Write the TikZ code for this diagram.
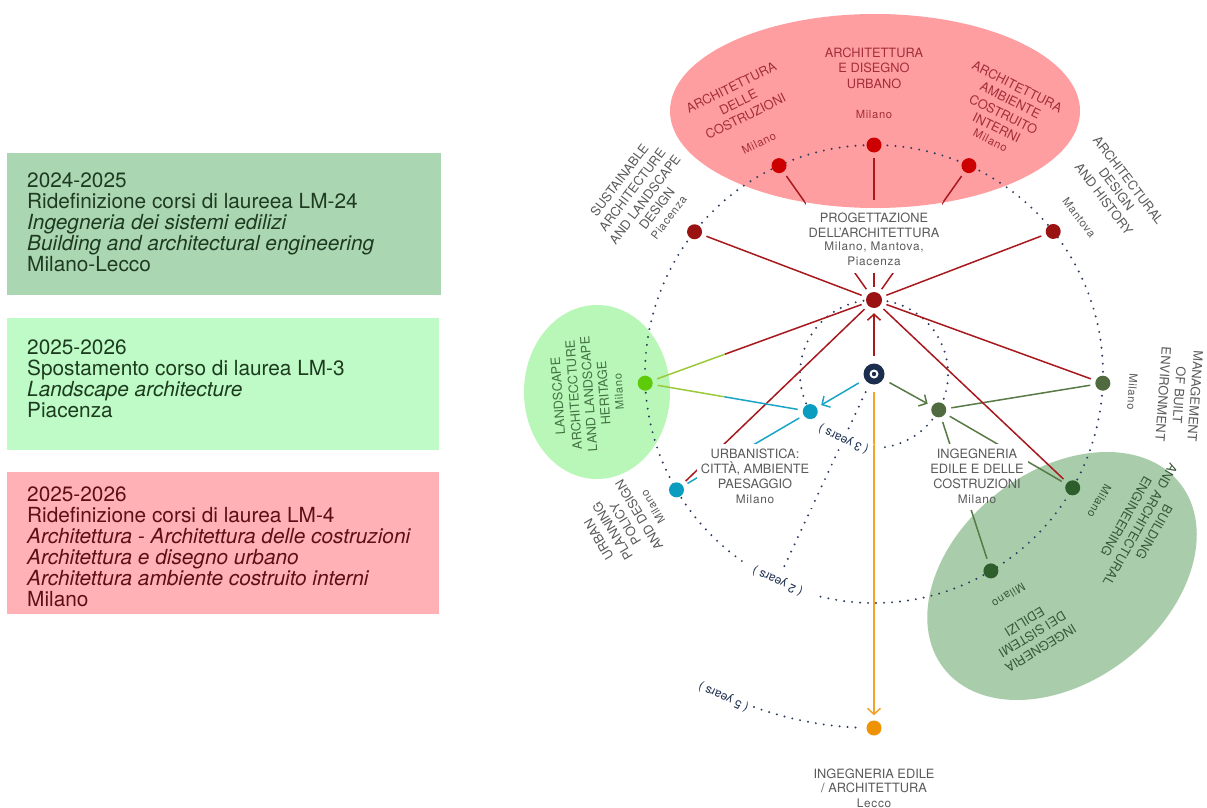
\documentclass[tikz,border=0pt]{standalone}
\usepackage{fontspec}
\setmainfont{TeX Gyre Heros}
\newfontfamily\spfont[LetterSpace=6]{TeX Gyre Heros}
\usetikzlibrary{arrows.meta,calc}
\definecolor{cNavy}{HTML}{1C2E4E}
\definecolor{cDot}{HTML}{2C3D60}
\definecolor{cBrRed}{HTML}{CC0000}
\definecolor{cDkRed}{HTML}{9A1212}
\definecolor{cRedLine}{HTML}{A8191E}
\definecolor{cLimeNode}{HTML}{5DCB0A}
\definecolor{cYGreen}{HTML}{9CC93A}
\definecolor{cTeal}{HTML}{0B9DBF}
\definecolor{cTealLine}{HTML}{1AA5C6}
\definecolor{cOliveNode}{HTML}{4F6B3F}
\definecolor{cDkGreen}{HTML}{2E5E2C}
\definecolor{cGLine}{HTML}{587A46}
\definecolor{cOrange}{HTML}{EE9306}
\definecolor{cOrLine}{HTML}{F2A32A}
\definecolor{cPinkEll}{HTML}{FF9EA1}
\definecolor{cLGEll}{HTML}{B9F7B9}
\definecolor{cRGEll}{HTML}{A9CDAB}
\definecolor{cBoxA}{HTML}{AAD7B1}
\definecolor{cBoxB}{HTML}{BFFBC6}
\definecolor{cBoxC}{HTML}{FFB1B5}
\definecolor{cGray}{HTML}{5A5A5A}
\definecolor{cPinkT}{HTML}{A32E3A}
\definecolor{cLGT}{HTML}{437343}
\definecolor{cRGT}{HTML}{385838}
\definecolor{cTA}{HTML}{1F3A22}
\definecolor{cTB}{HTML}{1C3B1F}
\definecolor{cTC}{HTML}{5C0F17}
\tikzset{
  cnode/.style={circle,inner sep=0pt,minimum size=15pt},
  dotc/.style={draw=cDot,line width=2.2pt,line cap=round,dash pattern=on 0pt off 8pt},
  conn/.style={line width=1.5pt,shorten <=5pt,shorten >=5pt},
  arr/.style={line width=1.5pt,shorten <=7pt,shorten >=5pt,-{Straight Barb[length=6pt,width=13pt]}},
  capt/.style={font=\fontsize{12.8}{14}\selectfont,inner sep=0pt},
  cty/.style={font=\spfont\fontsize{11.2}{13}\selectfont,inner sep=0pt},
  subl/.style={font=\spfont\fontsize{11.8}{13}\selectfont,inner sep=0pt},
  yrs/.style={font=\fontsize{12}{13}\selectfont,text=cNavy,fill=white,inner sep=2.5pt,rotate=155},
  boxtxt/.style={font=\fontsize{20.8}{20.9}\selectfont,align=left,anchor=north west,inner sep=0pt},
  bg/.style={fill=white,inner sep=0pt},
  pinkell/.style={fill=cPinkEll},
  rgell/.style={fill=cRGEll,rotate around={38:(188,-202)}},
}
\newcounter{lblc}
\newcommand\rl[4]{\stepcounter{lblc}\node[#4,rotate={#1-90}] (rl\arabic{lblc}) at (#1:#2) {#3};}
\begin{document}
\begin{tikzpicture}[x=1pt,y=1pt]
\useasboundingbox (0,0) rectangle (1207,-808);
\fill[white] (0,0) rectangle (1207,-808);
% left boxes
\fill[cBoxA] (7,-153) rectangle (441,-295);
\fill[cBoxB] (7,-318) rectangle (439,-450);
\fill[cBoxC] (7,-472) rectangle (439,-614);
\node[boxtxt,text=cTA] (ta) at (27,-173) {2024-2025\\Ridefinizione corsi di laureea LM-24\\\textit{Ingegneria dei sistemi edilizi}\\\textit{Building and architectural engineering}\\Milano-Lecco};
\node[boxtxt,text=cTB] (tb) at (27,-340) {2025-2026\\Spostamento corso di laurea LM-3\\\textit{Landscape architecture}\\Piacenza};
\node[boxtxt,text=cTC] (tc) at (27,-487) {2025-2026\\Ridefinizione corsi di laurea LM-4\\\textit{Architettura - Architettura delle costruzioni}\\\textit{Architettura e disegno urbano}\\\textit{Architettura ambiente costruito interni}\\Milano};
\begin{scope}[shift={(874,-374)}]
% ellipses
\fill[pinkell] (1,263) ellipse [x radius=205pt, y radius=97pt];
\fill[cLGEll] (-277,-18) ellipse [x radius=73pt, y radius=87pt];
\fill[rgell] (188,-202) ellipse [x radius=150pt, y radius=105pt];
% dotted circles
\draw[dotc] (-103.5:229) arc [start angle=-103.5, end angle=235.5, radius=229pt];
\draw[dotc] (-81.5:74) arc [start angle=-81.5, end angle=216, radius=74pt];
\draw[dotc] (245:354) arc [start angle=245, end angle=268, radius=354pt];
\draw[dotc] (245:20) -- (245:218);
% nodes
\node[cnode,fill=cNavy,minimum size=21pt] (c) at (0,0) {};
\fill[white] (0,0) circle (4.5pt);
\fill[cNavy] (0,0) circle (2.2pt);
\node[cnode,fill=cDkRed,minimum size=16pt] (h) at (90:74) {};
\node[cnode,fill=cBrRed] (t1) at (114.5:229) {};
\node[cnode,fill=cBrRed] (t2) at (90:229) {};
\node[cnode,fill=cBrRed] (t3) at (65.5:229) {};
\node[cnode,fill=cDkRed] (sus) at (141.6:229) {};
\node[cnode,fill=cDkRed] (adh) at (38.5:229) {};
\node[cnode,fill=cLimeNode] (land) at (182.3:229) {};
\node[cnode,fill=cOliveNode] (mgmt) at (-2.3:229) {};
\node[cnode,fill=cTeal] (urb) at (210.4:229) {};
\node[cnode,fill=cDkGreen] (bld) at (-29.8:229) {};
\node[cnode,fill=cDkGreen] (ise) at (-59.3:229) {};
\node[cnode,fill=cTeal] (blu) at (210.5:74) {};
\node[cnode,fill=cOliveNode] (grn) at (-29:74) {};
\node[cnode,fill=cOrange] (org) at (270:354) {};
% connectors
\foreach \n in {t1,t2,t3,sus,adh,mgmt,urb} \draw[conn,cRedLine] (h) -- (\n);
\coordinate (p1) at ($(h)!0.653!(land)$);
\draw[conn,cRedLine,shorten >=0pt] (h) -- (p1);
\draw[conn,cYGreen,shorten <=0pt] (p1) -- (land);
\coordinate (p2) at ($(land)!0.48!(blu)$);
\draw[conn,cYGreen,shorten >=0pt] (land) -- (p2);
\draw[conn,cTealLine,shorten <=0pt] (p2) -- (blu);
\draw[conn,cTealLine] (blu) -- (urb);
\foreach \n in {mgmt,bld,ise} \draw[conn,cGLine] (grn) -- (\n);
\draw[arr,cTealLine] (c) -- (blu);
\draw[arr,cGLine] (c) -- (grn);
\draw[arr,cRedLine] (c) -- (h);
\draw[arr,cOrLine] (c) -- (org);
% white label backgrounds (ellipses restored inside them)
\node[bg,minimum width=136pt,minimum height=71pt] (pbg) at (0,136.5) {};
\begin{scope}
\clip ([shift={(-1,-1)}]pbg.south west) rectangle ([shift={(1,1)}]pbg.north east);
\fill[pinkell] (1,263) ellipse [x radius=205pt, y radius=97pt];
\end{scope}
\node[bg,minimum width=116pt,minimum height=64pt] (ubg) at (-119,-102) {};
\node[bg,minimum width=100pt,minimum height=66pt] (ibg) at (103.5,-103) {};
\begin{scope}
\clip ([shift={(-1,-1)}]ibg.south west) rectangle ([shift={(1,1)}]ibg.north east);
\fill[rgell] (188,-202) ellipse [x radius=150pt, y radius=105pt];
\end{scope}
\node[capt,text=cGray] (pa) at (0,156) {PROGETTAZIONE};
\node[capt,text=cGray] (pb) at (0,141) {DELL’ARCHITETTURA};
\node[subl,text=cGray] (pc) at (0,127) {Milano, Mantova,};
\node[subl,text=cGray] (pd) at (0,113) {Piacenza};
\node[capt,text=cGray] (ua) at (-119,-80) {URBANISTICA:};
\node[capt,text=cGray] (ub) at (-119,-94.5) {CITTÀ, AMBIENTE};
\node[capt,text=cGray] (uc) at (-119,-110) {PAESAGGIO};
\node[subl,text=cGray] (ud) at (-119,-125) {Milano};
\node[capt,text=cGray] (ia) at (103,-80) {INGEGNERIA};
\node[capt,text=cGray] (ib) at (103,-95) {EDILE E DELLE};
\node[capt,text=cGray] (ic) at (103,-110) {COSTRUZIONI};
\node[subl,text=cGray] (id) at (103,-125) {Milano};
\draw[conn,cRedLine] (h) -- (bld);
% years
\node[yrs] (y3) at (245:72) {( 3 years )};
\node[yrs] (y2) at (245:228) {( 2 years )};
\node[yrs] (y5) at (245:356) {( 5 years )};
% bottom label
\node[capt,text=cGray] (la) at (0,-400) {INGEGNERIA EDILE};
\node[capt,text=cGray] (lb) at (0,-414) {/ ARCHITETTURA};
\node[subl,text=cGray] (lc) at (0,-429) {Lecco};
% ring labels
\rl{116.5}{320}{ARCHITETTURA}{capt,text=cPinkT}
\rl{116.5}{304}{DELLE}{capt,text=cPinkT}
\rl{116.5}{288}{COSTRUZIONI}{capt,text=cPinkT}
\rl{116.5}{258}{Milano}{cty,text=cPinkT}
\rl{90}{321}{ARCHITETTURA}{capt,text=cPinkT}
\rl{90}{306}{E DISEGNO}{capt,text=cPinkT}
\rl{90}{290}{URBANO}{capt,text=cPinkT}
\rl{90}{259}{Milano}{cty,text=cPinkT}
\rl{63.5}{321}{ARCHITETTURA}{capt,text=cPinkT}
\rl{63.5}{306}{AMBIENTE}{capt,text=cPinkT}
\rl{63.5}{290}{COSTRUITO}{capt,text=cPinkT}
\rl{63.5}{275}{INTERNI}{capt,text=cPinkT}
\rl{63.5}{261}{Milano}{cty,text=cPinkT}
\rl{142.7}{320}{SUSTAINABLE}{capt,text=cGray}
\rl{142.7}{304}{ARCHITECTURE}{capt,text=cGray}
\rl{142.7}{288}{AND LANDSCAPE}{capt,text=cGray}
\rl{142.7}{273}{DESIGN}{capt,text=cGray}
\rl{142.7}{258}{Piacenza}{cty,text=cGray}
\rl{37.3}{320}{ARCHITECTURAL}{capt,text=cGray}
\rl{37.3}{305}{DESIGN}{capt,text=cGray}
\rl{37.3}{289}{AND HISTORY}{capt,text=cGray}
\rl{37.3}{258}{Mantova}{cty,text=cGray}
\rl{184}{317}{LANDSCAPE}{capt,text=cLGT}
\rl{184}{301}{ARCHITECCTURE}{capt,text=cLGT}
\rl{184}{286}{LAND LANDSCAPE}{capt,text=cLGT}
\rl{184}{271}{HERITAGE}{capt,text=cLGT}
\rl{184}{256}{Milano}{cty,text=cLGT}
\rl{-4}{322}{MANAGEMENT}{capt,text=cGray}
\rl{-4}{306}{OF BUILT}{capt,text=cGray}
\rl{-4}{290}{ENVIRONMENT}{capt,text=cGray}
\rl{-4}{259}{Milano}{cty,text=cGray}
\rl{211}{321}{URBAN}{capt,text=cGray}
\rl{211}{305}{PLANNING}{capt,text=cGray}
\rl{211}{290}{POLICY}{capt,text=cGray}
\rl{211}{274}{AND DESIGN}{capt,text=cGray}
\rl{211}{258}{Milano}{cty,text=cGray}
\rl{-29.5}{322}{BUILDING}{capt,text=cRGT}
\rl{-29.5}{306}{AND ARCHITECTURAL}{capt,text=cRGT}
\rl{-29.5}{290}{ENGINEERING}{capt,text=cRGT}
\rl{-29.5}{259}{Milano}{cty,text=cRGT}
\rl{-58.7}{321}{INGEGNERIA}{capt,text=cRGT}
\rl{-58.7}{305}{DEI SISTEMI}{capt,text=cRGT}
\rl{-58.7}{290}{EDILIZI}{capt,text=cRGT}
\rl{-58.7}{259}{Milano}{cty,text=cRGT}
\end{scope}
\end{tikzpicture}
\end{document}
